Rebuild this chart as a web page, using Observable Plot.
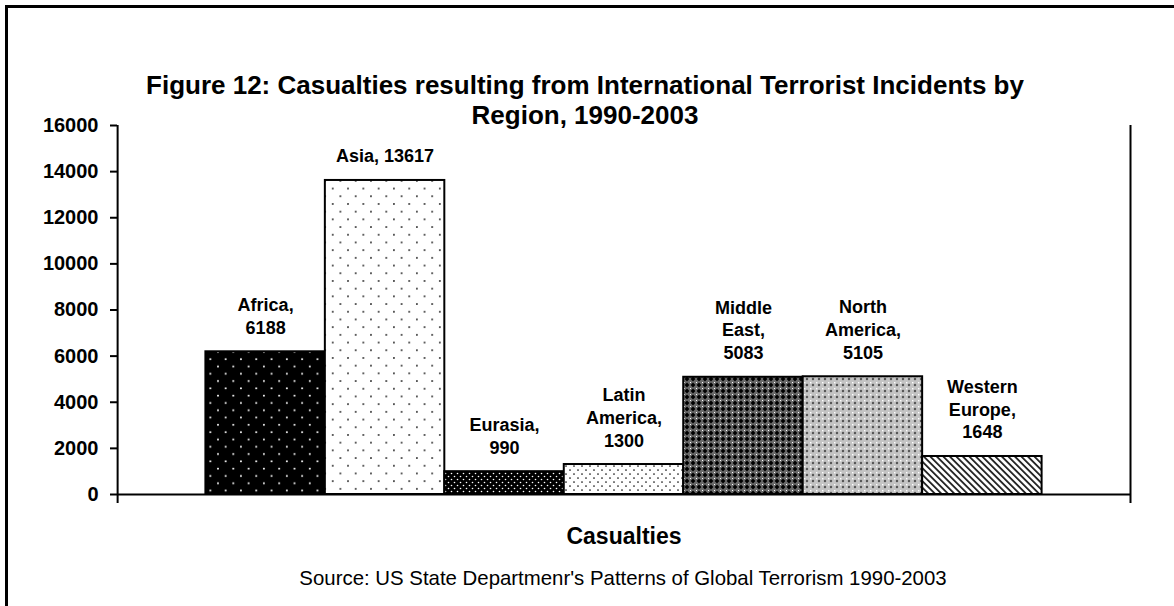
<!DOCTYPE html>
<html><head><meta charset="utf-8">
<script src="https://cdn.jsdelivr.net/npm/d3@7"></script>
<script src="https://cdn.jsdelivr.net/npm/@observablehq/plot@0.6"></script>
<style>
body{margin:0;background:#fff;font-family:"Liberation Sans",Arial,sans-serif;}
#border{position:absolute;left:5px;top:5px;width:1300px;height:800px;border:3px solid #000;}
#title{position:absolute;left:0;top:70px;width:1170px;text-align:center;font-weight:bold;font-size:26px;line-height:30px;color:#000;}
#chart{position:absolute;left:0;top:100px;}
#caption{position:absolute;left:0;top:566px;width:1246px;text-align:center;font-size:20.4px;line-height:24px;color:#000;}
#chart svg g[aria-label="y-axis tick"] path, #chart svg g[aria-label="y-axis"] line{stroke-width:2px;}
</style></head><body>
<div id="border"></div>
<div id="title">Figure 12: Casualties resulting from International Terrorist Incidents by<br>Region, 1990-2003</div>
<div id="chart"></div>
<div id="caption">Source: US State Departmenr's Patterns of Global Terrorism 1990-2003</div>
<script>
const regions = ["Africa","Asia","Eurasia","Latin America","Middle East","North America","Western Europe"];
const casualties = [6188,13617,990,1300,5083,5105,1648];
const labelText = ["Africa,\n6188","Asia, 13617","Eurasia,\n990","Latin\nAmerica,\n1300","Middle\nEast,\n5083","North\nAmerica,\n5105","Western\nEurope,\n1648"];
const yTicks = [0,2000,4000,6000,8000,10000,12000,14000,16000];
const axisTitle = "Casualties";
const patternIds = ["pAfrica","pAsia","pEurasia","pLatin","pMiddle","pNorth","pWest"];

const n = regions.length;
const pad = 0.74;
const yMax = yTicks[yTicks.length - 1];
const data = regions.map((region, i) => ({
  region, i, value: casualties[i], label: labelText[i], pattern: `url(#${patternIds[i]})`
}));

const svg = Plot.plot({
  width: 1174,
  height: 470,
  marginTop: 25,
  marginBottom: 76,
  marginLeft: 117,
  marginRight: 44,
  style: {background: "transparent", fontFamily: "'Liberation Sans', Arial, sans-serif", fontSize: "20px", fontWeight: "bold", color: "#000", overflow: "visible"},
  x: {domain: [-pad, n + pad], axis: null},
  y: {domain: [0, yMax], ticks: yTicks, tickFormat: "d", tickSize: 7, tickPadding: 12, label: null},
  color: {type: "identity"},
  marks: [
    Plot.rectY(data, {x1: "i", x2: d => d.i + 1, y: "value", fill: "pattern", stroke: "#000", strokeWidth: 2}),
    Plot.ruleY([0], {stroke: "#000", strokeWidth: 2}),
    Plot.ruleX([-pad + 0.001], {y1: yMax, y2: 0, insetBottom: -9, stroke: "#000", strokeWidth: 2}),
    Plot.ruleX([n + pad], {y1: yMax, y2: 0, insetBottom: -9, stroke: "#000", strokeWidth: 2}),
    Plot.text(data, {x: d => d.i + 0.5, y: "value", text: "label", lineAnchor: "bottom", dy: -18, fontSize: 18, fontWeight: "bold", lineHeight: 1.27, fill: "#000"}),
    Plot.text([axisTitle], {frameAnchor: "bottom", dy: 49, fontSize: 23, fontWeight: "bold", fill: "#000"})
  ]
});
document.getElementById("chart").appendChild(svg);

const defs = d3.select(svg).insert("defs", ":first-child");
function pat(id, w, h, bg, build, transform) {
  const p = defs.append("pattern").attr("id", id).attr("patternUnits", "userSpaceOnUse")
    .attr("width", w).attr("height", h);
  if (transform) p.attr("patternTransform", transform);
  p.append("rect").attr("width", w).attr("height", h).attr("fill", bg);
  build(p);
}
pat("pAfrica", 15.3, 14.6, "#000", p => {
  p.append("circle").attr("cx", 3.8).attr("cy", 3.6).attr("r", 1).attr("fill", "#fff");
  p.append("circle").attr("cx", 11.45).attr("cy", 10.9).attr("r", 1).attr("fill", "#fff");
});
pat("pAsia", 15.3, 15.4, "#fff", p => {
  p.append("circle").attr("cx", 3.8).attr("cy", 3.8).attr("r", 0.95).attr("fill", "#222");
  p.append("circle").attr("cx", 11.45).attr("cy", 11.5).attr("r", 0.95).attr("fill", "#222");
});
pat("pEurasia", 6, 6, "#000", p => {
  p.append("circle").attr("cx", 1.5).attr("cy", 1.5).attr("r", 0.8).attr("fill", "#fff");
  p.append("circle").attr("cx", 4.5).attr("cy", 4.5).attr("r", 0.8).attr("fill", "#fff");
});
pat("pLatin", 8, 8, "#fff", p => {
  p.append("circle").attr("cx", 2).attr("cy", 2).attr("r", 0.85).attr("fill", "#111");
  p.append("circle").attr("cx", 6).attr("cy", 6).attr("r", 0.85).attr("fill", "#111");
});
pat("pMiddle", 6, 6, "#6a6a6a", p => {
  p.append("path").attr("d", "M3 0.6L5.4 3L3 5.4L0.6 3Z").attr("fill", "#000");
  p.append("rect").attr("x", 0).attr("y", 0).attr("width", 1).attr("height", 1).attr("fill", "#fff");
});
pat("pNorth", 6, 6, "#c4c4c4", p => {
  p.append("path").attr("d", "M3 1.6L4.4 3L3 4.4L1.6 3Z").attr("fill", "#444");
  p.append("rect").attr("x", 0).attr("y", 0).attr("width", 1.4).attr("height", 1.4).attr("fill", "#fff");
});
pat("pWest", 4.6, 4.6, "#fff", p => {
  p.append("rect").attr("x", 0).attr("y", 0).attr("width", 1.8).attr("height", 4.6).attr("fill", "#222");
}, "rotate(-45)");
</script>
</body></html>
